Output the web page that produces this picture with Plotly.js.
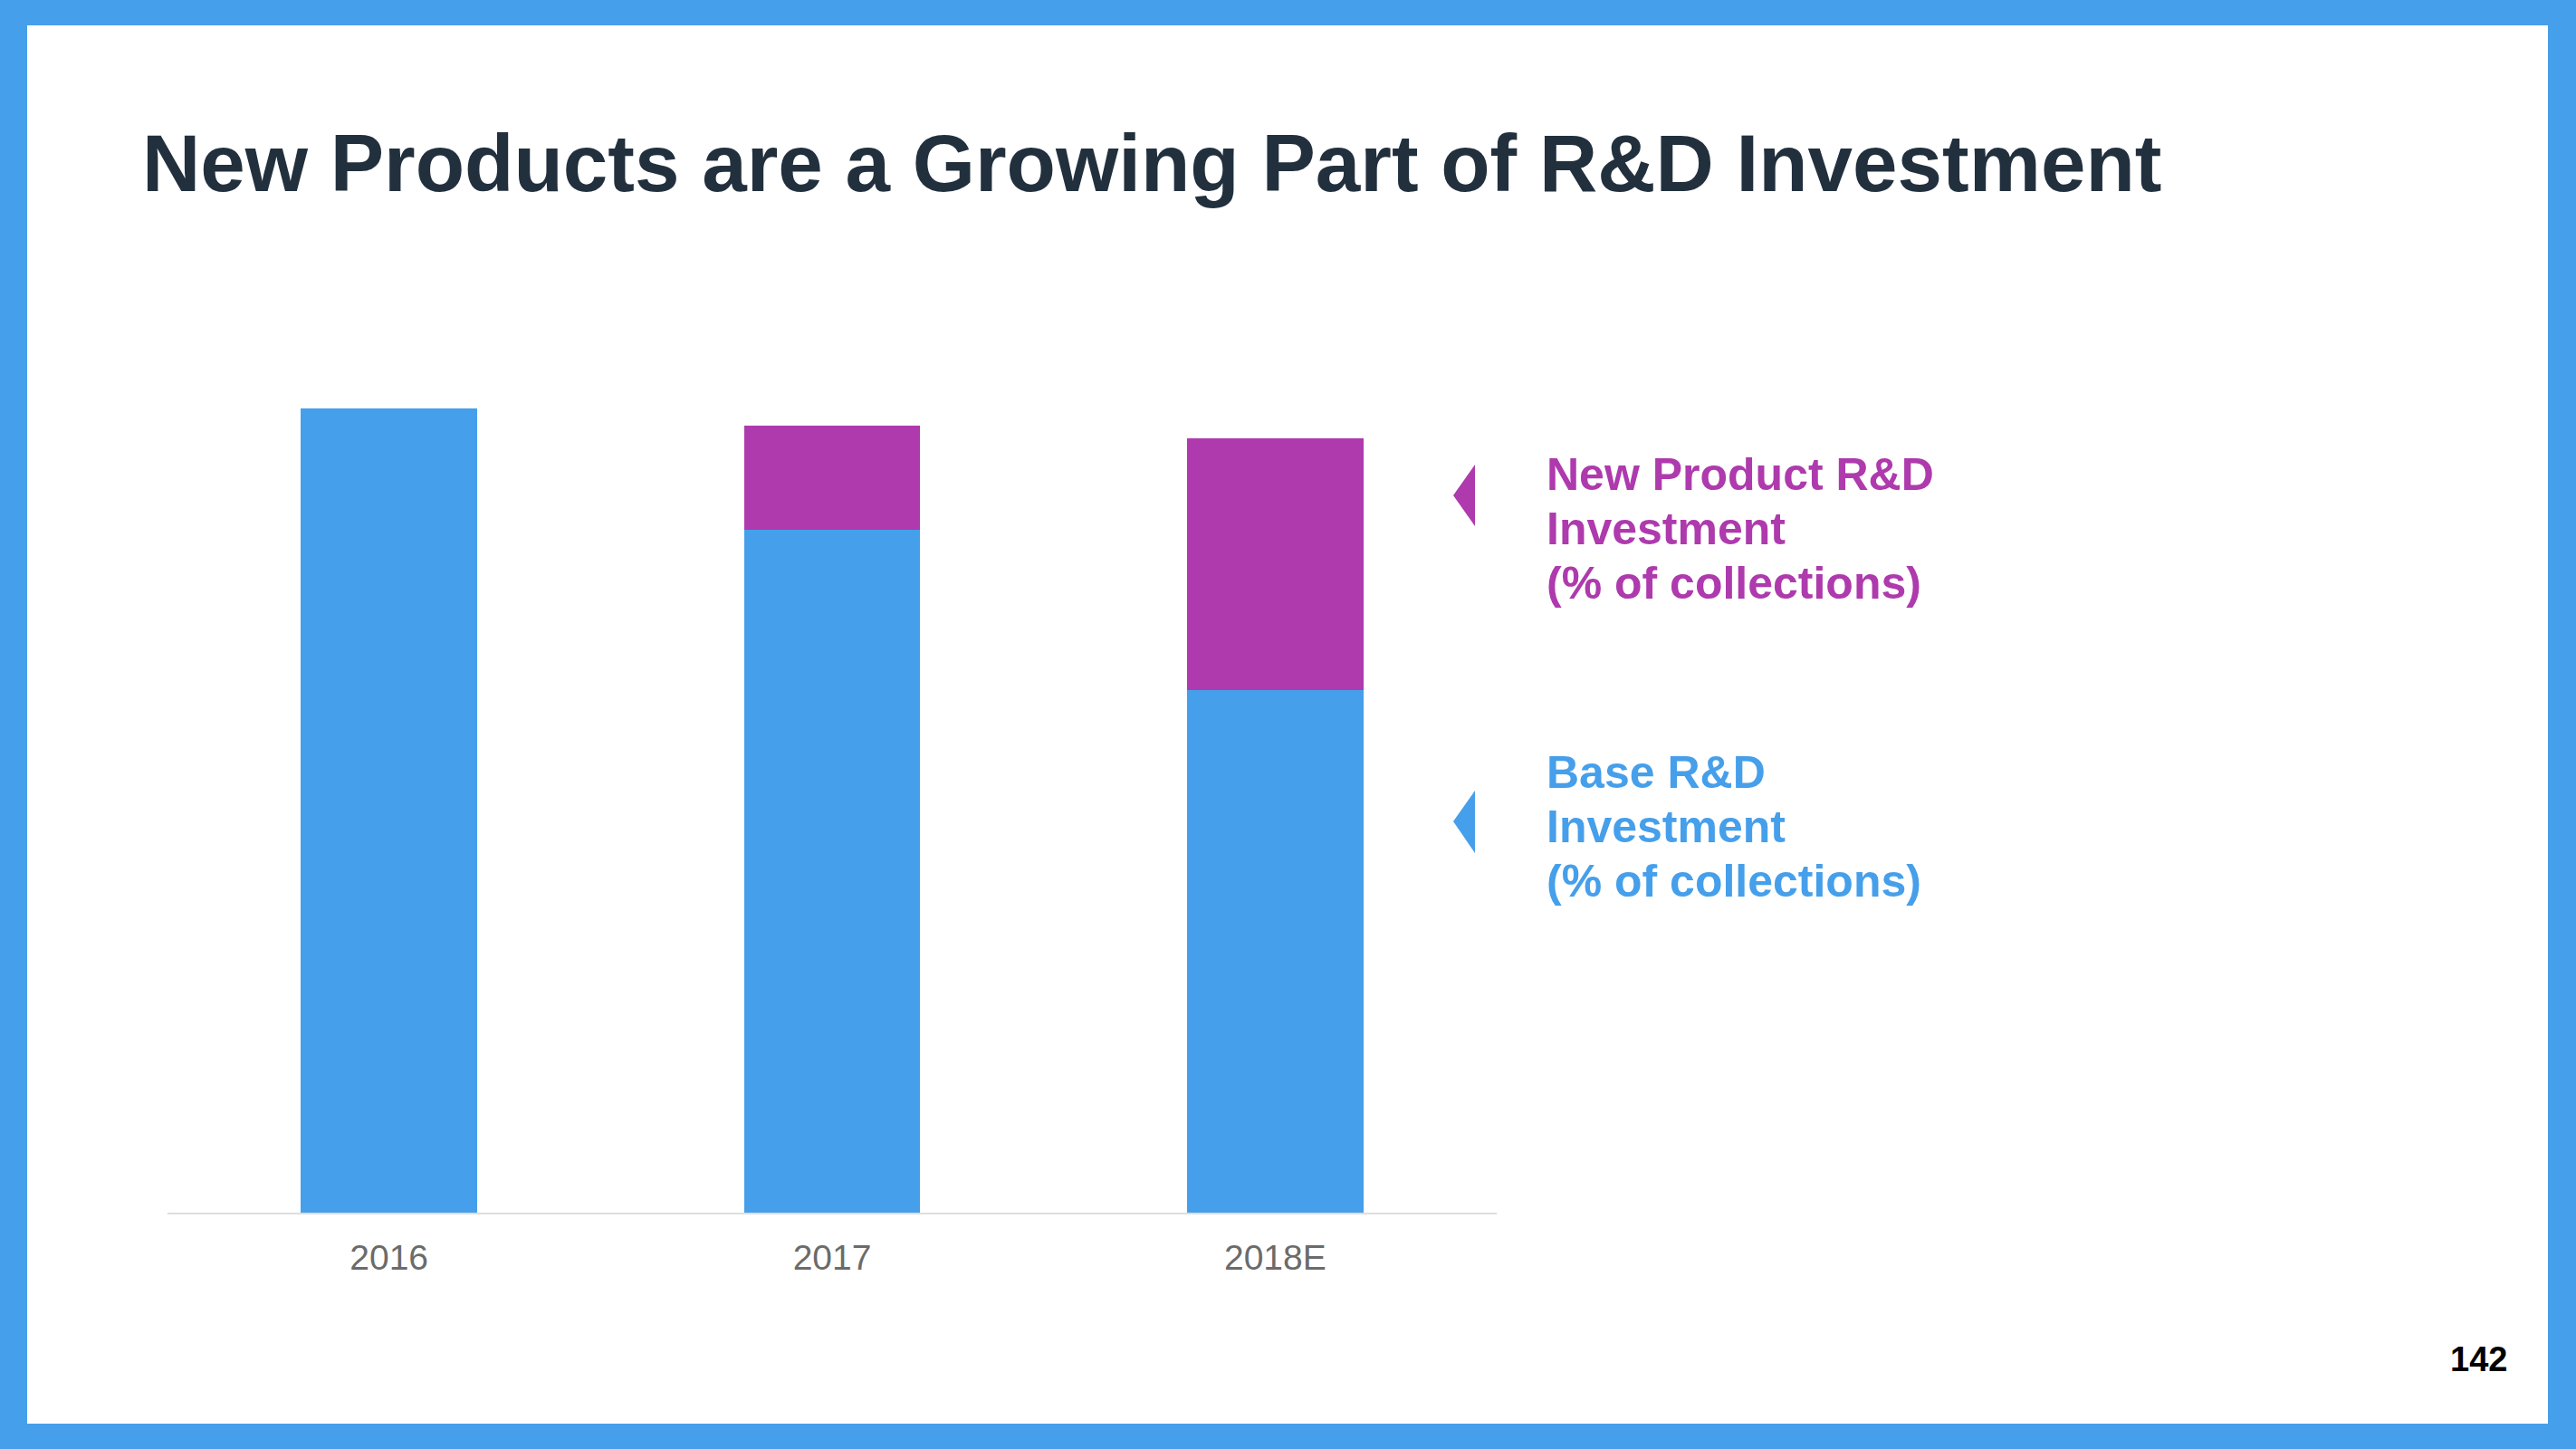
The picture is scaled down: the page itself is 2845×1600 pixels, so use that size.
<!DOCTYPE html>
<html><head><meta charset="utf-8">
<script src="https://cdn.plot.ly/plotly-3.0.1.min.js"></script>
<style>html,body{margin:0;padding:0;background:#fff;} #chart{width:2845px;height:1600px;}</style>
</head><body><div id="chart"></div>
<script>
// ---- data ----
const years = ['2016', '2017', '2018E'];
const baseRD = [10.0, 8.49, 6.50];          // Base R&D investment (relative units)
const newProductRD = [0, 1.30, 3.13];       // New product R&D investment (relative units)
const newLabel = ['New Product R&D', 'Investment', '(% of collections)'];
const baseLabel = ['Base R&D', 'Investment', '(% of collections)'];
const titleText = 'New Products are a Growing Part of R&D Investment';
const pageNumber = '142';

// ---- layout helpers ----
const W = 2845, H = 1600;
const px = x => x / W, py = y => 1 - y / H;
const BLUE = '#469FEA', PURPLE = '#AE3AAD', NAVY = '#22303E';
const FONT = 'Liberation Sans, Arial, Helvetica, sans-serif';

const traces = [
  {type: 'bar', x: years, y: baseRD, name: baseLabel.join(' '), marker: {color: BLUE, line: {width: 0}}, width: 0.398, hoverinfo: 'skip'},
  {type: 'bar', x: years, y: newProductRD, name: newLabel.join(' '), marker: {color: PURPLE, line: {width: 0}}, width: 0.398, hoverinfo: 'skip'}
];

function tri(tipX, tipY, rightX, topY, botY, color) {
  return {type: 'path', xref: 'paper', yref: 'paper',
    path: `M ${px(tipX)} ${py(tipY)} L ${px(rightX)} ${py(topY)} L ${px(rightX)} ${py(botY)} Z`,
    fillcolor: color, line: {width: 0}, layer: 'above'};
}

const annotations = [];
function legendBlock(lines, color, yCenters) {
  lines.forEach((t, i) => annotations.push({
    text: '<b>' + t + '</b>', xref: 'paper', yref: 'paper', x: px(1706), y: py(yCenters[i]),
    xanchor: 'left', yanchor: 'middle', showarrow: false,
    font: {family: FONT, size: 50, color: color}
  }));
}
legendBlock(newLabel, PURPLE, [524, 584, 644]);
legendBlock(baseLabel, BLUE, [853, 913, 973]);
annotations.push({
  text: '<b>' + pageNumber + '</b>', xref: 'paper', yref: 'paper', x: px(2771), y: py(1501),
  xanchor: 'right', yanchor: 'middle', showarrow: false,
  font: {family: FONT, size: 38, color: '#000000'}
});

const layout = {
  width: W, height: H,
  margin: {l: 0, r: 0, t: 0, b: 0},
  paper_bgcolor: BLUE,
  plot_bgcolor: 'rgba(0,0,0,0)',
  showlegend: false,
  barmode: 'stack',
  title: {
    text: '<b>' + titleText + '</b>', xref: 'container', yref: 'container',
    x: px(157), xanchor: 'left', y: py(180), yanchor: 'middle',
    font: {family: FONT, size: 89, color: NAVY}
  },
  xaxis: {
    domain: [px(185), px(1653)], range: [-0.5, 2.5], type: 'category',
    showline: true, linecolor: '#dddddd', linewidth: 2,
    ticks: '', showgrid: false, zeroline: false, fixedrange: true,
    tickfont: {family: FONT, size: 39, color: '#6b6b6b'},
    ticklabelstandoff: 14
  },
  yaxis: {
    domain: [py(1339), py(400)], range: [0, 10.58],
    visible: false, fixedrange: true
  },
  shapes: [
    {type: 'rect', xref: 'paper', yref: 'paper', x0: px(30), x1: px(2814), y0: py(1572), y1: py(28),
     fillcolor: '#ffffff', line: {width: 0}, layer: 'below'},
    tri(1605, 547, 1629, 513, 581, PURPLE),
    tri(1605, 907, 1629, 873, 942, BLUE)
  ],
  annotations: annotations
};

Plotly.newPlot('chart', traces, layout, {displayModeBar: false, staticPlot: true});
</script>
</body></html>
